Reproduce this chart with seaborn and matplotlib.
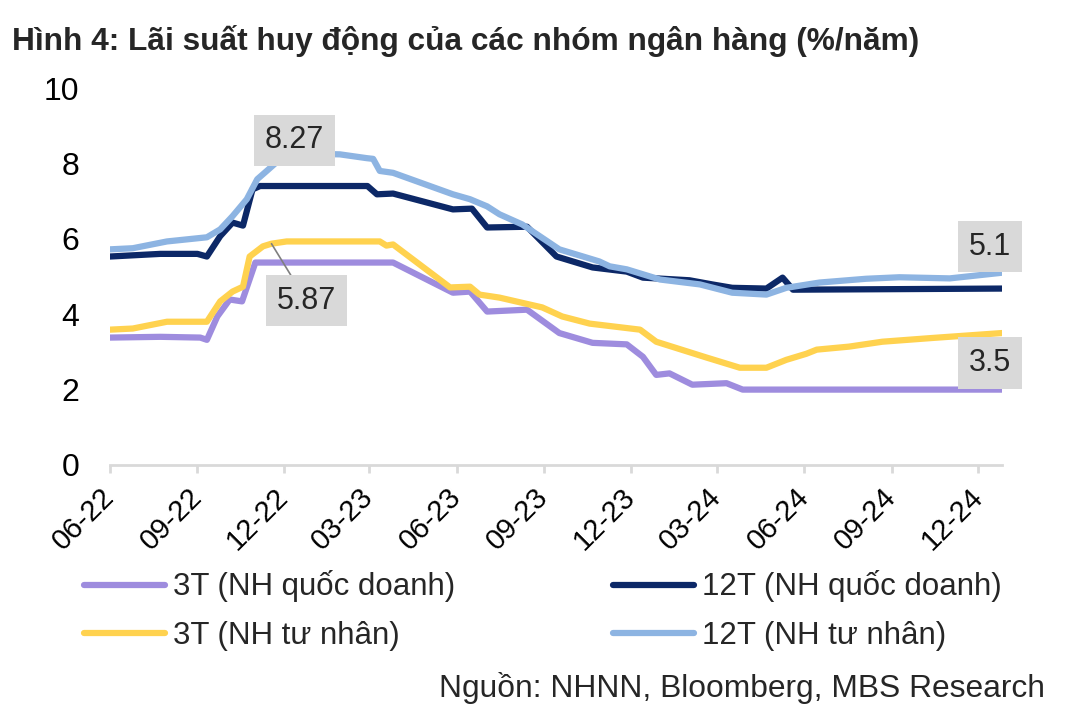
import numpy as np
import pandas as pd
import matplotlib
matplotlib.use("Agg")
import matplotlib.pyplot as plt
import matplotlib.dates as mdates
import seaborn as sns

sns.set_theme(style="white")
plt.rcParams['font.family'] = ['Liberation Sans', 'DejaVu Sans']

# series names (legend text)
names = ["3T (NH quốc doanh)", "12T (NH quốc doanh)", "3T (NH tư nhân)", "12T (NH tư nhân)"]
colors = ["#9E8CDE", "#0C2867", "#FFD24F", "#8DB4E2"]

# 3T quoc doanh
d_3t_qd = ["2022-06-01", "2022-07-24", "2022-09-04", "2022-09-11", "2022-09-22", "2022-10-05",
           "2022-10-18", "2022-11-01", "2023-03-26", "2023-05-28", "2023-06-15", "2023-07-03",
           "2023-08-14", "2023-09-17", "2023-10-22", "2023-11-27", "2023-12-14", "2023-12-28",
           "2024-01-11", "2024-02-04", "2024-03-11", "2024-03-28", "2024-12-26"]
v_3t_qd = [3.38, 3.40, 3.38, 3.32, 3.94, 4.39, 4.34, 5.37, 5.37, 4.57, 4.60, 4.07,
           4.12, 3.50, 3.24, 3.20, 2.87, 2.39, 2.43, 2.13, 2.17, 2.00, 2.00]

# 12T quoc doanh
d_12t_qd = ["2022-06-01", "2022-07-24", "2022-09-01", "2022-09-11", "2022-09-25", "2022-10-08",
            "2022-10-19", "2022-10-29", "2022-11-06", "2023-02-27", "2023-03-09", "2023-03-26",
            "2023-05-28", "2023-06-17", "2023-07-03", "2023-08-14", "2023-09-14", "2023-10-22",
            "2023-11-27", "2023-12-14", "2024-02-01", "2024-02-25", "2024-03-17", "2024-04-22",
            "2024-05-09", "2024-05-20", "2024-12-26"]
v_12t_qd = [5.53, 5.60, 5.60, 5.53, 6.07, 6.43, 6.35, 7.31, 7.40, 7.40, 7.18, 7.20,
            6.78, 6.80, 6.30, 6.32, 5.53, 5.24, 5.13, 4.97, 4.90, 4.79, 4.70, 4.68,
            4.97, 4.65, 4.68]

# 3T tu nhan
d_3t_tn = ["2022-06-01", "2022-06-25", "2022-07-31", "2022-09-11", "2022-09-25", "2022-10-08",
           "2022-10-19", "2022-10-26", "2022-11-09", "2022-11-18", "2022-12-04", "2023-03-12",
           "2023-03-19", "2023-03-26", "2023-05-25", "2023-06-15", "2023-06-25", "2023-07-16",
           "2023-08-30", "2023-09-20", "2023-10-19", "2023-12-11", "2023-12-28", "2024-02-19",
           "2024-03-25", "2024-04-22", "2024-05-13", "2024-06-03", "2024-06-14", "2024-07-18",
           "2024-08-22", "2024-10-14", "2024-12-26"]
v_3t_tn = [3.59, 3.62, 3.80, 3.80, 4.34, 4.60, 4.73, 5.53, 5.80, 5.87, 5.93, 5.93,
           5.82, 5.85, 4.71, 4.73, 4.52, 4.44, 4.18, 3.94, 3.75, 3.59, 3.27, 2.85,
           2.58, 2.58, 2.79, 2.95, 3.06, 3.14, 3.27, 3.37, 3.50]

# 12T tu nhan
d_12t_tn = ["2022-06-01", "2022-06-25", "2022-07-31", "2022-09-11", "2022-09-25", "2022-10-08",
            "2022-10-23", "2022-11-03", "2022-11-13", "2022-12-04", "2023-01-29", "2023-02-26",
            "2023-03-05", "2023-03-12", "2023-03-26", "2023-05-28", "2023-06-15", "2023-07-03",
            "2023-07-16", "2023-08-09", "2023-09-17", "2023-10-12", "2023-10-29", "2023-11-09",
            "2023-11-27", "2024-01-01", "2024-02-12", "2024-03-17", "2024-04-22", "2024-05-13",
            "2024-06-17", "2024-08-05", "2024-09-09", "2024-11-01", "2024-12-26"]
v_12t_tn = [5.72, 5.75, 5.93, 6.04, 6.25, 6.60, 7.05, 7.58, 7.80, 8.27, 8.24, 8.14,
            8.12, 7.80, 7.75, 7.18, 7.05, 6.86, 6.65, 6.38, 5.72, 5.53, 5.40, 5.27,
            5.19, 4.92, 4.79, 4.57, 4.52, 4.70, 4.84, 4.94, 4.98, 4.95, 5.10]

frames = []
for name, d, v in zip(names, [d_3t_qd, d_12t_qd, d_3t_tn, d_12t_tn],
                      [v_3t_qd, v_12t_qd, v_3t_tn, v_12t_tn]):
    frames.append(pd.DataFrame({"date": pd.to_datetime(d), "value": v, "series": name}))
df = pd.concat(frames, ignore_index=True)

fig = plt.figure(figsize=(10.71, 7.21), dpi=100)
ax = fig.add_axes([110 / 1071, 1 - 465 / 721, 892 / 1071, 377 / 721])

sns.lineplot(data=df, x="date", y="value", hue="series", hue_order=names,
             palette=colors, linewidth=4.5, ax=ax, estimator=None, sort=False)
for ln in ax.get_lines():
    ln.set_solid_capstyle("round")

ax.set_ylim(0, 10)
ax.set_yticks([0, 2, 4, 6, 8, 10])
ax.set_xlim(pd.Timestamp("2022-06-01"), pd.Timestamp("2024-12-26"))
ax.xaxis.set_major_locator(mdates.MonthLocator(bymonth=[3, 6, 9, 12]))
ax.xaxis.set_major_formatter(mdates.DateFormatter("%m-%y"))
ax.set_xlabel("")
ax.set_ylabel("")

for s in ["top", "right", "left"]:
    ax.spines[s].set_visible(False)
ax.spines["bottom"].set_color("#d9d9d9")
ax.spines["bottom"].set_linewidth(2)
ax.tick_params(axis="x", bottom=True, length=6, width=2, color="#d9d9d9",
               labelsize=21, pad=14, labelcolor="black")
ax.tick_params(axis="y", left=False, length=0, labelsize=23, pad=22, labelcolor="black")
for lab in ax.get_xticklabels():
    lab.set_rotation(45)
    lab.set_ha("right")
    lab.set_va("center")
    lab.set_rotation_mode("anchor")

# value labels
box = dict(boxstyle="square,pad=0.35", fc="#d9d9d9", ec="none")
peak_i = int(np.argmax(v_12t_tn))
ax.annotate(f"{v_12t_tn[peak_i]:g}", xy=(pd.Timestamp(d_12t_tn[peak_i]), v_12t_tn[peak_i]),
            xytext=(8, 13), textcoords="offset pixels", ha="center", va="center",
            fontsize=22, bbox=box)
yi = d_3t_tn.index("2022-11-18")
ax.annotate(f"{v_3t_tn[yi]:g}", xy=(pd.Timestamp(d_3t_tn[yi]), v_3t_tn[yi]),
            xytext=(35, -57), textcoords="offset pixels", ha="center", va="center",
            fontsize=22, bbox=box,
            arrowprops=dict(arrowstyle="-", color="#7f7f7f", lw=1.2, shrinkA=0, shrinkB=0))
ax.annotate(f"{v_12t_tn[-1]:g}", xy=(pd.Timestamp(d_12t_tn[-1]), v_12t_tn[-1]),
            xytext=(-12, 26), textcoords="offset pixels", ha="center", va="center",
            fontsize=22, bbox=box)
ax.annotate(f"{v_3t_tn[-1]:g}", xy=(pd.Timestamp(d_3t_tn[-1]), v_3t_tn[-1]),
            xytext=(-12, -30), textcoords="offset pixels", ha="center", va="center",
            fontsize=22, bbox=box)

# legend, row-wise order
handles, labels = ax.get_legend_handles_labels()
ax.get_legend().remove()
order = [0, 2, 1, 3]
fig.legend([handles[i] for i in order], [labels[i] for i in order],
           loc="upper left", bbox_to_anchor=(71 / 1071, 1 - 558 / 721), ncol=2,
           frameon=False, fontsize=22.5, handlelength=2.6, handletextpad=0.25,
           columnspacing=5.05, labelspacing=0.6, borderaxespad=0)

fig.text(12 / 1071, 1 - 50 / 721, "Hình 4: Lãi suất huy động của các nhóm ngân hàng (%/năm)",
         fontsize=22.8, fontweight="bold", va="baseline", ha="left")
fig.text(1045 / 1071, 1 - 697 / 721, "Nguồn: NHNN, Bloomberg, MBS Research",
         fontsize=22.9, va="baseline", ha="right")

fig.savefig("out.png", dpi=100, facecolor="white")
